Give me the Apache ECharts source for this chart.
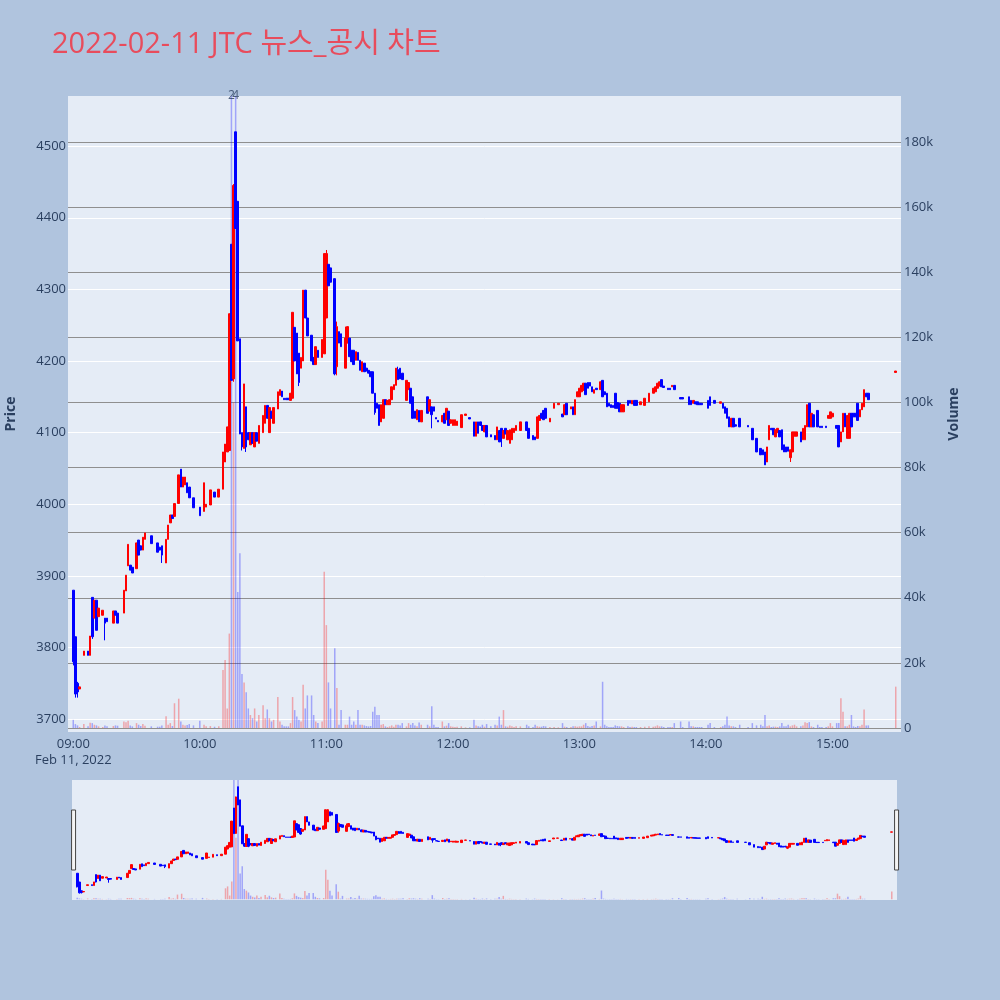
<!DOCTYPE html>
<html><head><meta charset="utf-8">
<script src="https://cdn.jsdelivr.net/npm/echarts@6/dist/echarts.min.js"></script>
<style>html,body{margin:0;padding:0;background:#b0c4de;}#c{width:1000px;height:1000px;}</style>
</head><body><div id="c"></div>
<script>
// minutes after 09:00 that traded
const minutes = [
0,1,2,3,5,7,8,9,10,11, 12,14,15,16,19,20,21,24,25,26, 27,28,30,31,32,33,34,37,40,41, 42,44,45,46,47,48,50,51,52,53,
54,55,57,60,62,63,65,67,69,71, 72,73,74,75,76,77,78,79,80,81, 82,83,84,85,86,87,88,90,91,92, 93,94,95,97,98,99,100,101,102,103,
104,105,106,107,108,109,110,111,113,114, 115,116,118,119,120,121,122,124,125,126, 127,129,130,131,132,133,134,135,136,137, 138,139,140,141,142,143,144,145,146,147,
148,149,150,151,152,153,154,155,156,158, 159,160,161,162,163,164,165,168,169,170, 171,172,173,175,176,177,178,179,180,181, 182,184,186,188,190,191,192,193,194,195,
196,198,200,201,202,203,204,205,206,207, 208,209,210,212,215,216,218,219,220,221, 222,223,224,226,228,230,232,233,234,236, 237,238,239,240,241,242,243,244,245,246,
247,248,250,251,252,253,254,255,256,257, 258,259,260,261,263,264,265,266,267,269, 271,273,275,276,277,278,279,280,282,283, 284,285,288,289,292,293,294,295,296,297,
298,301,302,304,307,308,309,310,311,312, 313,314,316,320,322,324,326,327,328,329, 330,331,332,333,334,335,336,337,338,339, 340,341,342,343,345,346,347,348,349,350,
351,353,354,355,357,358,359,360,362,363, 364,365,366,367,368,369,370,371,372,373, 374,375,376,377,390
];
const opens = [
3880,3815,3750,3742,3789,3795,3789,3870,3841,3866, 3843,3845,3841,3841,3834,3851,3848,3848,3879,3914, 3915,3912,3910,3950,3942,3936,3951,3956,3946,3940, 3942,3918,3951,3974,3985,3983,4001,4049,4024,4027,
4030,4024,4009,3996,3990,3996,3999,4017,4010,4021, 4059,4073,4075,4363,4175,4520,4423,4231,4100,4078, 4136,4100,4083,4100,4080,4100,4085,4100,4113,4138, 4100,4130,4113,4133,4152,4158,4148,4148,4148,4145,
4148,4247,4239,4211,4190,4200,4299,4260,4236,4205, 4195,4215,4205,4210,4260,4335,4330,4315,4192,4241, 4238,4190,4225,4232,4215,4215,4201,4212,4201,4185, 4197,4190,4187,4185,4185,4155,4141,4139,4115,4120,
4146,4139,4139,4146,4160,4166,4188,4190,4183,4145, 4160,4162,4150,4130,4118,4131,4115,4150,4130,4136, 4136,4121,4117,4115,4127,4118,4130,4113,4110,4110, 4110,4107,4124,4121,4115,4095,4115,4115,4110,4101,
4110,4097,4096,4090,4103,4106,4092,4106,4090,4085, 4090,4100,4103,4103,4115,4106,4096,4094,4092,4117, 4127,4131,4134,4115,4134,4139,4126,4125,4141,4133, 4136,4125,4150,4150,4157,4159,4169,4170,4170,4164,
4155,4162,4160,4173,4157,4155,4141,4139,4138,4155, 4142,4141,4129,4129,4145,4145,4140,4145,4145,4139, 4138,4143,4155,4157,4162,4165,4174,4165,4162,4162, 4164,4166,4149,4149,4150,4145,4141,4143,4143,4141,
4141,4145,4150,4145,4141,4141,4136,4134,4122,4108, 4120,4111,4120,4110,4106,4092,4078,4076,4073,4059, 4090,4106,4106,4094,4100,4103,4104,4083,4080,4080, 4065,4073,4095,4095,4101,4090,4090,4108,4141,4108,
4125,4131,4109,4109,4109,4120,4120,4122,4110,4110, 4087,4101,4127,4092,4092,4127,4127,4127,4141,4122, 4132,4136,4155,4155,4184
];
const closes = [
3780,3735,3738,3745,3795,3789,3816,3815,3866,3824, 3855,3852,3834,3836,3851,3845,3834,3880,3901,3944, 3908,3904,3946,3929,3936,3954,3960,3945,3933,3936, 3929,3951,3971,3985,3980,4001,4041,4024,4038,4038,
4016,4009,3995,3984,4030,4000,4020,4010,4021,4073, 4084,4108,4266,4173,4445,4385,4228,4098,4080,4168, 4080,4090,4100,4085,4100,4088,4110,4124,4138,4120, 4135,4120,4135,4157,4160,4150,4146,4146,4146,4155,
4268,4200,4182,4170,4205,4299,4260,4235,4200,4195, 4220,4205,4230,4350,4350,4305,4310,4182,4248,4225, 4220,4232,4248,4206,4199,4195,4213,4201,4187,4199, 4185,4186,4183,4178,4155,4128,4134,4110,4139,4146,
4139,4145,4146,4164,4167,4190,4174,4175,4174,4173, 4170,4141,4120,4120,4132,4115,4131,4127,4146,4125, 4130,4119,4115,4124,4113,4134,4110,4118,4118,4118, 4116,4125,4126,4119,4095,4115,4099,4110,4103,4110,
4094,4094,4090,4108,4087,4093,4103,4098,4103,4104, 4106,4106,4110,4115,4103,4092,4090,4090,4122,4124, 4120,4118,4120,4120,4141,4141,4122,4139,4125,4136, 4125,4146,4157,4162,4166,4169,4153,4162,4165,4157,
4160,4160,4171,4150,4153,4136,4137,4135,4135,4134, 4134,4129,4139,4139,4138,4141,4145,4138,4138,4143, 4148,4155,4162,4164,4169,4171,4164,4163,4160,4160, 4166,4160,4147,4147,4139,4139,4145,4140,4139,4139,
4139,4134,4138,4141,4143,4134,4127,4120,4108,4120, 4108,4109,4108,4108,4090,4073,4069,4069,4055,4080, 4110,4104,4097,4104,4106,4094,4076,4073,4073,4074, 4076,4101,4101,4101,4087,4106,4110,4139,4108,4127,
4108,4108,4107,4107,4107,4124,4129,4127,4106,4080, 4101,4127,4108,4124,4127,4108,4122,4122,4117,4132, 4141,4160,4150,4146,4186
];
const lows = [
3775,3730,3730,3742,3789,3789,3789,3812,3841,3824, 3843,3845,3810,3836,3834,3845,3834,3848,3879,3914, 3908,3904,3910,3929,3936,3936,3951,3945,3933,3936, 3918,3918,3951,3974,3980,3983,4001,4024,4024,4027,
4016,4009,3995,3984,3990,3996,3999,4010,4010,4021, 4059,4073,4075,4173,4171,4385,4228,4098,4075,4078, 4073,4090,4083,4085,4080,4088,4085,4100,4113,4120, 4100,4120,4113,4133,4152,4150,4146,4146,4146,4145,
4148,4200,4182,4165,4190,4200,4260,4235,4200,4195, 4195,4205,4205,4210,4260,4305,4310,4180,4180,4225, 4220,4190,4225,4206,4199,4195,4201,4201,4187,4185, 4185,4186,4183,4178,4155,4125,4134,4110,4115,4120,
4139,4139,4139,4146,4160,4166,4174,4175,4174,4145, 4160,4141,4120,4120,4118,4115,4115,4127,4130,4106, 4130,4119,4115,4115,4113,4118,4110,4113,4110,4110, 4110,4107,4124,4119,4095,4095,4099,4110,4103,4101,
4094,4094,4090,4090,4087,4080,4092,4098,4090,4085, 4090,4100,4103,4103,4103,4092,4090,4090,4092,4117, 4120,4118,4120,4115,4134,4139,4122,4125,4125,4133, 4125,4125,4150,4150,4157,4159,4153,4162,4165,4157,
4155,4160,4160,4150,4153,4136,4137,4135,4135,4134, 4134,4129,4129,4129,4138,4141,4140,4138,4138,4139, 4138,4143,4155,4157,4162,4165,4164,4163,4160,4160, 4164,4160,4147,4147,4139,4139,4141,4140,4139,4139,
4139,4134,4138,4141,4141,4134,4127,4120,4108,4108, 4108,4109,4108,4108,4090,4073,4069,4069,4055,4059, 4090,4104,4097,4094,4100,4094,4076,4073,4073,4074, 4059,4073,4095,4095,4087,4090,4090,4108,4108,4108,
4108,4108,4107,4107,4107,4120,4120,4122,4106,4080, 4087,4101,4108,4092,4092,4108,4122,4122,4117,4122, 4132,4136,4150,4146,4184
];
const highs = [
3880,3815,3752,3745,3795,3795,3816,3870,3866,3866, 3855,3852,3841,3841,3851,3851,3848,3880,3901,3944, 3915,3912,3946,3950,3942,3954,3960,3956,3946,3940, 3942,3951,3971,3985,3985,4001,4041,4049,4038,4038,
4030,4024,4009,3996,4030,4000,4020,4017,4021,4073, 4084,4108,4266,4363,4447,4520,4423,4231,4100,4168, 4136,4100,4100,4100,4100,4100,4110,4124,4138,4138, 4135,4130,4135,4157,4160,4158,4148,4148,4148,4155,
4268,4247,4239,4211,4205,4299,4299,4260,4236,4205, 4220,4215,4230,4350,4355,4335,4330,4315,4255,4241, 4238,4248,4248,4232,4215,4215,4213,4212,4201,4199, 4197,4190,4187,4185,4185,4155,4141,4139,4139,4146,
4146,4145,4146,4164,4167,4190,4192,4190,4183,4173, 4170,4162,4150,4130,4132,4131,4131,4150,4146,4136, 4136,4121,4117,4124,4127,4134,4130,4118,4118,4118, 4116,4125,4126,4121,4115,4115,4115,4115,4110,4110,
4110,4097,4096,4108,4103,4106,4103,4106,4103,4104, 4106,4106,4110,4115,4115,4106,4096,4094,4122,4124, 4127,4131,4134,4120,4141,4141,4126,4139,4141,4136, 4136,4146,4157,4162,4166,4169,4169,4170,4170,4164,
4160,4162,4171,4173,4157,4155,4141,4139,4138,4155, 4142,4141,4139,4139,4145,4145,4145,4145,4145,4143, 4148,4155,4162,4164,4169,4171,4174,4165,4162,4162, 4166,4166,4149,4149,4150,4145,4145,4143,4143,4141,
4141,4145,4150,4145,4143,4141,4136,4134,4122,4120, 4120,4111,4120,4110,4106,4092,4078,4076,4073,4080, 4110,4106,4106,4104,4106,4103,4104,4083,4080,4080, 4076,4101,4101,4101,4101,4106,4110,4139,4141,4127,
4125,4131,4109,4109,4109,4124,4129,4127,4110,4110, 4101,4127,4127,4124,4127,4127,4127,4127,4141,4132, 4141,4160,4155,4155,4186
];
const volumes = [
2500,1200,800,300,1200,500,1600,1500,1000,800, 500,300,800,500,600,800,700,2000,1800,2200, 800,500,1500,1000,600,1200,700,500,400,400, 800,3600,1000,1500,600,7600,9000,2000,1000,800,
900,1200,800,2200,1000,500,600,400,500,17800, 20900,6000,29000,230000,100000,230000,41800,53700,16600,14000, 11000,6000,4000,3000,6000,2000,4000,7000,3000,5700, 3000,2000,2500,9500,2000,1000,500,500,500,1500,
9500,5500,3500,2500,2000,13300,6000,10000,10000,4000, 2000,1500,2000,48000,31600,14000,6000,24500,12300,1000, 5500,1000,1000,3500,1000,2000,1000,5500,1000,1000, 800,600,500,600,5000,6500,4000,4000,1000,1200,
500,300,500,800,400,1000,1000,800,1500,500, 1500,1000,1500,800,500,1700,1000,1000,500,6700, 1000,300,300,2000,500,700,1500,500,400,300, 400,500,200,200,2500,800,500,400,1000,400,
1200,500,1000,800,3500,1000,5500,500,400,800, 500,300,500,500,1000,500,300,1000,500,400, 400,600,500,300,300,200,1500,400,300,300, 500,500,400,500,500,1000,1500,600,400,600,
800,2000,500,14200,1000,500,300,300,300,800, 600,500,500,300,500,300,400,300,300,300, 400,500,400,500,800,500,500,300,300,300, 300,1500,2000,300,2000,500,500,300,300,300,
300,1000,1500,300,300,500,1000,3500,800,500, 500,300,1000,300,1500,800,1000,500,4000,500, 800,300,400,400,300,500,1500,500,500,1000, 500,800,1000,500,500,800,1800,1500,1800,500,
300,1000,300,300,300,500,1500,500,1500,1500, 9100,5000,500,500,1000,4000,500,300,600,500, 1000,5700,800,800,12700
];
const newsTimes = ['10:15', '10:17'];
const newsTexts = ['2', '4'];
const priceTicks = [3700, 3800, 3900, 4000, 4100, 4200, 4300, 4400, 4500];
const volumeTicks = [0, 20000, 40000, 60000, 80000, 100000, 120000, 140000, 160000, 180000];
const xTickLabels = ['09:00', '10:00', '11:00', '12:00', '13:00', '14:00', '15:00'];
const dateLabel = 'Feb 11, 2022';

const PRICE_MIN = 3682, PRICE_MAX = 4570, VOL_MIN = -1230, VOL_MAX = 194100;
const firstMinute = -2, lastMinute = 392;
const pad = n => (n < 10 ? '0' : '') + n;
const cats = [];
for (let m = firstMinute; m <= lastMinute; m++) {
  const t = 540 + m;
  cats.push(pad(Math.floor(t / 60)) + ':' + pad(t % 60));
}
const UP = '#ff0000', DOWN = '#0000ff';
const candleData = cats.map(() => ['-', '-', '-', '-']);
const volData = cats.map(() => '-');
minutes.forEach((m, i) => {
  const idx = m - firstMinute;
  candleData[idx] = [opens[i], closes[i], lows[i], highs[i]];
  const up = closes[i] >= opens[i];
  volData[idx] = { value: volumes[i], itemStyle: { color: up ? 'rgba(255,0,0,0.3)' : 'rgba(0,0,255,0.3)' } };
});
const newsData = newsTimes.map((t, i) => ({ value: [t, PRICE_MAX], label: { formatter: newsTexts[i] } }));

const FONT = "'Open Sans', 'Noto Sans CJK KR', sans-serif";
const TXT = '#2a3f5f';
const chart = echarts.init(document.getElementById('c'), null, { renderer: 'canvas' });
chart.setOption({
  animation: false,
  backgroundColor: '#b0c4de',
  textStyle: { fontFamily: FONT },
  title: {
    text: '2022-02-11 JTC 뉴스_공시 차트', left: 47, top: 22,
    textStyle: { color: '#e84c5c', fontSize: 29, fontWeight: 'normal', fontFamily: FONT, lineHeight: 36 }
  },
  grid: [
    { left: 68, right: 99, top: 96, height: 636, show: true, backgroundColor: '#e5ecf6', borderWidth: 0, outerBoundsMode: 'none', containLabel: false },
    { left: 72, right: 103, top: 780, height: 120, show: true, backgroundColor: '#e5ecf6', borderWidth: 0, outerBoundsMode: 'none', containLabel: false }
  ],
  xAxis: [
    {
      type: 'category', gridIndex: 0, data: cats, boundaryGap: true,
      axisLine: { show: false }, axisTick: { show: false }, splitLine: { show: false },
      axisLabel: {
        interval: (i, v) => xTickLabels.indexOf(v) >= 0,
        formatter: v => (v === xTickLabels[0] ? v + '\n' + dateLabel : v),
        color: TXT, fontSize: 13, margin: 4, lineHeight: 16, fontFamily: FONT
      }
    },
    { type: 'category', gridIndex: 1, data: cats, boundaryGap: true, show: false }
  ],
  yAxis: [
    {
      type: 'value', gridIndex: 0, position: 'left', min: PRICE_MIN, max: PRICE_MAX,
      splitNumber: 9, minInterval: 100, maxInterval: 100,
      axisLine: { show: false }, axisTick: { show: false },
      axisLabel: { color: TXT, fontSize: 13, margin: 2, fontFamily: FONT,
        formatter: v => (priceTicks.indexOf(v) >= 0 ? String(v) : '') },
      splitLine: { showMinLine: false, showMaxLine: false, lineStyle: { color: '#ffffff', width: 1 } },
      name: 'Price', nameLocation: 'middle', nameGap: 50, nameRotate: 90,
      nameTextStyle: { color: TXT, fontSize: 14, fontWeight: 'bold', fontFamily: FONT }
    },
    {
      type: 'value', gridIndex: 0, position: 'right', min: VOL_MIN, max: VOL_MAX,
      splitNumber: 10, minInterval: 20000, maxInterval: 20000,
      axisLine: { show: false }, axisTick: { show: false },
      axisLabel: { color: TXT, fontSize: 13, margin: 3, fontFamily: FONT,
        formatter: v => (volumeTicks.indexOf(v) >= 0 ? (v === 0 ? '0' : (v / 1000) + 'k') : '') },
      splitLine: { showMinLine: false, showMaxLine: false, lineStyle: { color: '#8f8f8f', width: 1.2 } },
      name: 'Volume', nameLocation: 'middle', nameGap: 46, nameRotate: 90,
      nameTextStyle: { color: TXT, fontSize: 14, fontWeight: 'bold', fontFamily: FONT }
    },
    { type: 'value', gridIndex: 1, min: PRICE_MIN, max: PRICE_MAX, show: false, splitLine: { show: false } },
    { type: 'value', gridIndex: 1, min: VOL_MIN, max: VOL_MAX, show: false, splitLine: { show: false } }
  ],
  dataZoom: [{
    type: 'slider', xAxisIndex: [0, 1], filterMode: 'none', start: 0, end: 100,
    left: 72, right: 103, top: 780, height: 120,
    showDataShadow: false, showDetail: false, brushSelect: false, moveHandleSize: 0,
    backgroundColor: 'rgba(0,0,0,0)', fillerColor: 'rgba(0,0,0,0)', borderColor: 'rgba(0,0,0,0)',
    handleIcon: 'path://M0,0H4V60H0Z', handleSize: '50%',
    handleStyle: { color: '#f4f4f4', borderColor: '#444', borderWidth: 1 },
    emphasis: { handleStyle: { color: '#f4f4f4', borderColor: '#444', borderWidth: 1 } }
  }],
  series: [
    {
      type: 'bar', xAxisIndex: 0, yAxisIndex: 1, data: volData, barWidth: '72%', z: 1,
      emphasis: { disabled: true }
    },
    {
      type: 'candlestick', xAxisIndex: 0, yAxisIndex: 0, data: candleData, barWidth: 2.1, z: 3,
      itemStyle: { color: UP, color0: DOWN, borderColor: UP, borderColor0: DOWN, borderWidth: 1 },
      emphasis: { disabled: true }
    },
    {
      type: 'scatter', xAxisIndex: 0, yAxisIndex: 0, data: newsData, symbolSize: 0, z: 5, clip: false,
      label: { show: true, position: 'inside', color: TXT, fontSize: 12, fontFamily: FONT }
    },
    {
      type: 'bar', xAxisIndex: 1, yAxisIndex: 3, data: volData, barWidth: '72%', z: 1,
      emphasis: { disabled: true }
    },
    {
      type: 'candlestick', xAxisIndex: 1, yAxisIndex: 2, data: candleData, barWidth: 2.1, z: 3,
      itemStyle: { color: UP, color0: DOWN, borderColor: UP, borderColor0: DOWN, borderWidth: 1 },
      emphasis: { disabled: true }
    }
  ]
});
</script></body></html>
